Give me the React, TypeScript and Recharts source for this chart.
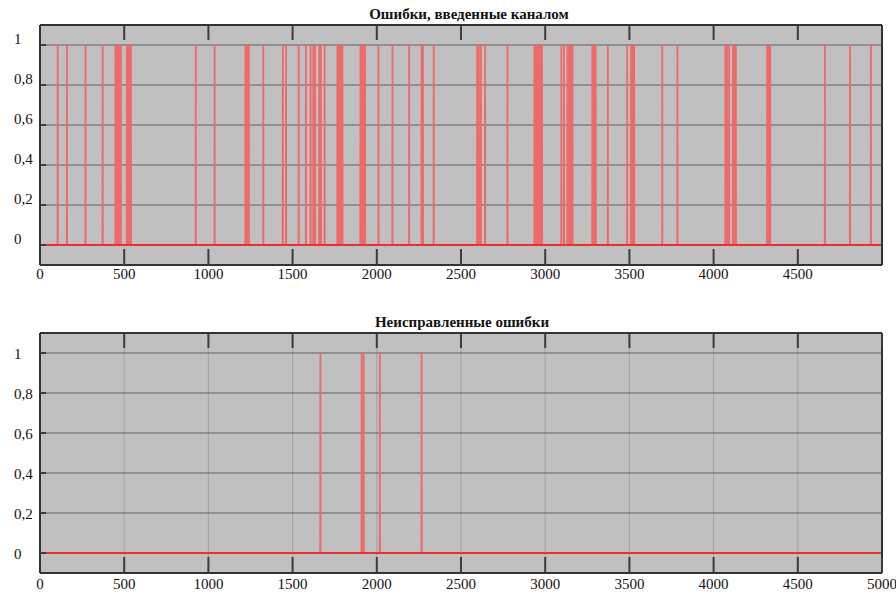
import React from "react"
import { CartesianGrid, Line, LineChart, ReferenceLine, XAxis, YAxis } from "recharts"

// number of samples in the transmitted block
const TOTAL = 5000

const topXTicks = [0, 500, 1000, 1500, 2000, 2500, 3000, 3500, 4000, 4500]
const bottomXTicks = [0, 500, 1000, 1500, 2000, 2500, 3000, 3500, 4000, 4500, 5000]
const yTicks = [0, 0.2, 0.4, 0.6, 0.8, 1]
const yTickLabels = ["0", "0,2", "0,4", "0,6", "0,8", "1"]

// positions of bits flipped by the channel
const channelErrors = [
  105, 160, 270, 372,
  448, 456, 464, 472, 480,
  516, 524, 532, 540,
  925, 1037,
  1220, 1230, 1240,
  1326, 1442, 1461, 1536, 1579, 1607, 1623, 1633,
  1658, 1668, 1690,
  1766, 1776, 1786, 1796,
  1903, 1913, 1923, 1930,
  2010, 2093, 2192, 2266, 2274, 2338,
  2596, 2606, 2618, 2643, 2776,
  2936, 2945, 2954, 2963, 2972, 2981,
  3096, 3112, 3132, 3140, 3148, 3156, 3162,
  3280, 3290, 3300, 3372,
  3487, 3510, 3519, 3528,
  3695, 3785,
  4070, 4080, 4092, 4115, 4125, 4132,
  4318, 4328, 4336,
  4661, 4810, 4934,
]

// errors left after decoding
const uncorrectedErrors = [1665, 1910, 1922, 2018, 2266]

const toSignal = (errors: number[]) => {
  const hits = new Set(errors)
  return Array.from({ length: TOTAL + 1 }, (_, n) => ({ n, v: hits.has(n) ? 1 : 0 }))
}

const channelSignal = toSignal(channelErrors)
const uncorrectedSignal = toSignal(uncorrectedErrors)

const FRAME = "#333333"
const TICK = "#3c3c3c"
const LABEL_FONT = "'Liberation Serif', 'DejaVu Serif', 'Times New Roman', serif"

const BottomTick = ({ x, y, payload, labelDy }: any) => (
  <g>
    {payload.value > 0 && (
      <line x1={x} x2={x} y1={y} y2={y - 16} stroke={TICK} strokeWidth={2} />
    )}
    <text x={x} y={y + labelDy} textAnchor="middle" fontSize={15} fontFamily={LABEL_FONT} fill="#111">
      {payload.value}
    </text>
  </g>
)

const TopTick = ({ x, y, payload }: any) =>
  payload.value > 0 ? <line x1={x} x2={x} y1={y} y2={y + 15} stroke={TICK} strokeWidth={2} /> : <g />

const LeftTick = ({ x, y, payload, labelDy }: any) => (
  <g>
    <line x1={x} x2={x + 6} y1={y} y2={y} stroke={TICK} strokeWidth={2} />
    <text x={x - 26} y={y + labelDy} textAnchor="start" fontSize={15} fontFamily={LABEL_FONT} fill="#111">
      {yTickLabels[yTicks.indexOf(payload.value)]}
    </text>
  </g>
)

const RightTick = ({ x, y }: any) => (
  <line x1={x} x2={x - 9} y1={y} y2={y} stroke={TICK} strokeWidth={2} />
)

type PanelProps = {
  data: { n: number; v: number }[]
  xTicks: number[]
  height: number
  topSpace: number
  xLabelDy: number
  yLabelDy: number
  verticalGrid: boolean
}

function ErrorPanel({ data, xTicks, height, topSpace, xLabelDy, yLabelDy, verticalGrid }: PanelProps) {
  return (
    <LineChart width={896} height={height} data={data} margin={{ top: 0, right: 0, bottom: 0, left: 0 }}>
      <CartesianGrid
        xAxisId="bottom"
        yAxisId="left"
        horizontal={false}
        vertical={verticalGrid}
        stroke="#a2a2a2"
        fill="#c0c0c0"
        fillOpacity={1}
      />
      <CartesianGrid xAxisId="bottom" yAxisId="left" vertical={false} stroke="#5e5e5e" />
      <XAxis
        xAxisId="bottom"
        dataKey="n"
        type="number"
        domain={[0, TOTAL]}
        ticks={xTicks}
        height={height - topSpace - 240}
        interval={0}
        tickSize={0}
        tickMargin={0}
        tickLine={false}
        axisLine={{ stroke: FRAME, strokeWidth: 2 }}
        tick={(p: any) => <BottomTick {...p} labelDy={xLabelDy} />}
      />
      <XAxis
        xAxisId="top"
        orientation="top"
        dataKey="n"
        type="number"
        domain={[0, TOTAL]}
        ticks={xTicks}
        height={topSpace}
        interval={0}
        tickSize={0}
        tickMargin={0}
        tickLine={false}
        axisLine={{ stroke: FRAME, strokeWidth: 2 }}
        tick={(p: any) => <TopTick {...p} />}
      />
      <YAxis
        yAxisId="left"
        type="number"
        domain={[-0.1, 1.1]}
        ticks={yTicks}
        width={40}
        interval={0}
        tickSize={0}
        tickMargin={0}
        tickLine={false}
        axisLine={{ stroke: FRAME, strokeWidth: 2 }}
        tick={(p: any) => <LeftTick {...p} labelDy={yLabelDy} />}
      />
      <YAxis
        yAxisId="right"
        orientation="right"
        type="number"
        domain={[-0.1, 1.1]}
        ticks={yTicks}
        width={14}
        interval={0}
        tickSize={0}
        tickMargin={0}
        tickLine={false}
        axisLine={{ stroke: FRAME, strokeWidth: 2 }}
        tick={(p: any) => <RightTick {...p} />}
      />
      <Line
        xAxisId="bottom"
        yAxisId="left"
        type="linear"
        dataKey="v"
        stroke="#ee6a6a"
        strokeWidth={1.8}
        dot={false}
        activeDot={false}
        isAnimationActive={false}
      />
      {/* zero level of the error signal drawn in full red */}
      <ReferenceLine xAxisId="bottom" yAxisId="left" y={0} stroke="#e83232" strokeWidth={2} />
    </LineChart>
  )
}

const titleStyle: React.CSSProperties = {
  position: "absolute",
  transform: "translate(-50%, -50%)",
  whiteSpace: "nowrap",
  fontFamily: LABEL_FONT,
  fontWeight: "bold",
  fontSize: 15,
  color: "#111",
}

export default function App() {
  return (
    <div style={{ position: "absolute", left: 0, top: 0, width: 896, height: 595, background: "#fff", overflow: "hidden" }}>
      <div style={{ position: "absolute", left: 0, top: 0 }}>
        <ErrorPanel
          data={channelSignal}
          xTicks={topXTicks}
          height={290}
          topSpace={25}
          xLabelDy={14}
          yLabelDy={-1}
          verticalGrid={false}
        />
      </div>
      <div style={{ position: "absolute", left: 0, top: 300 }}>
        <ErrorPanel
          data={uncorrectedSignal}
          xTicks={bottomXTicks}
          height={300}
          topSpace={33}
          xLabelDy={16}
          yLabelDy={6}
          verticalGrid={true}
        />
      </div>
      <div style={{ ...titleStyle, left: 469, top: 14 }}>Ошибки, введенные каналом</div>
      <div style={{ ...titleStyle, left: 462, top: 322 }}>Неисправленные ошибки</div>
    </div>
  )
}
